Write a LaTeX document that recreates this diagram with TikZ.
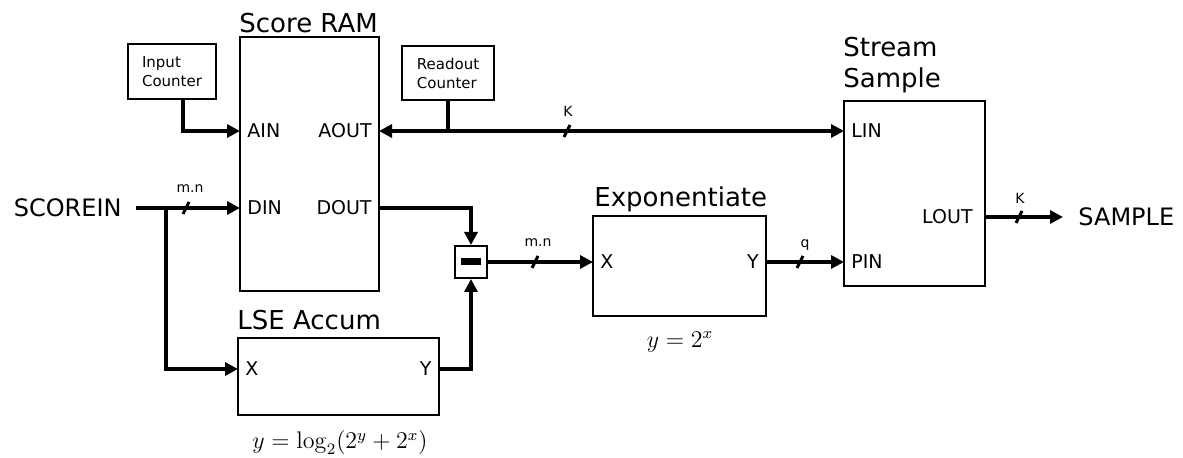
\documentclass[tikz,border=0pt]{standalone}
\usepackage[no-math]{fontspec}
\setmainfont{DejaVu Sans}
\usetikzlibrary{arrows.meta}
\tikzset{
  block/.style={draw, line width=1pt, inner sep=0pt},
  title/.style={font=\fontsize{13}{15.5}\selectfont, inner sep=0pt},
  port/.style={font=\fontsize{9.5}{11}\selectfont, inner sep=3.5pt},
  ctr/.style={block, align=left, font=\fontsize{7.5}{9.5}\selectfont},
  io/.style={font=\fontsize{12}{14}\selectfont},
  wire/.style={line width=1.6pt},
  arr/.style={wire, -{Triangle[length=6.5pt,width=6.5pt]}},
  biarr/.style={wire, {Triangle[length=6.5pt,width=6.5pt]}-{Triangle[length=6.5pt,width=6.5pt]}},
  tick/.style={line width=1.5pt},
  lbl/.style={font=\fontsize{7}{8}\selectfont, inner sep=0pt},
  eqn/.style={font=\fontsize{11.5}{13}\selectfont}
}
\begin{document}
\begin{tikzpicture}[x=0.5pt,y=-0.5pt]
        \useasboundingbox (0,0) rectangle (1183,458);
        % blocks
        \node[block, minimum width=69.5pt, minimum height=127pt] (RAM) at (309.5,164) {};
        \node[title, anchor=base west] at ([yshift=1.5pt]RAM.north west) {Score RAM};
        \node[ctr, minimum width=44pt, minimum height=27.5pt] (InCtr) at (172,71.5) {Input\\Counter};
        \node[ctr, minimum width=46pt, minimum height=27pt] (RdCtr) at (448,73) {Readout\\Counter};
        \node[block, minimum width=100.5pt, minimum height=38.5pt] (LSE) at (338.5,376.5) {};
        \node[title, anchor=base west] at ([yshift=3.5pt]LSE.north west) {LSE Accum};
        \node[block, minimum width=16pt, minimum height=16pt] (Minus) at (471,262) {\rule{10pt}{3.5pt}};
        \node[block, minimum width=86.5pt, minimum height=50pt] (Exp) at (679.5,266) {};
        \node[title, anchor=base west] at ([yshift=4pt, xshift=1pt]Exp.north west) {Exponentiate};
        \node[block, minimum width=70.5pt, minimum height=92.5pt] (SS) at (914.5,193.5) {};
        \node[title, anchor=south west, align=left] at ([yshift=3.5pt]SS.north west) {Stream\\Sample};
        % ports
        \node[port, anchor=west] (AIN) at (240,131) {AIN};
        \node[port, anchor=east] (AOUT) at (379,131) {AOUT};
        \node[port, anchor=west] (DIN) at (240,208) {DIN};
        \node[port, anchor=east] (DOUT) at (379,208) {DOUT};
        \node[port, anchor=west] (LX) at (238,369) {X};
        \node[port, anchor=east] (LY) at (439,369) {Y};
        \node[port, anchor=west] (EX) at (593,262) {X};
        \node[port, anchor=east] (EY) at (766,262) {Y};
        \node[port, anchor=west] (LIN) at (844,131) {LIN};
        \node[port, anchor=west] (PIN) at (844,262) {PIN};
        \node[port, anchor=east, inner sep=6pt] (LOUT) at (985,217) {LOUT};
        % inputs and outputs
        \node[io, anchor=east, inner sep=7pt] (scorein) at (136,208) {SCOREIN};
        \node[io, anchor=west, inner sep=7.5pt] (sample) at (1063,217) {SAMPLE};
        \coordinate (split) at (166,208);
        % connectors
        \draw[arr] (InCtr.south) ++(11,0) |- (AIN.west);
        \draw[biarr] (AOUT.east) -- (LIN.west);
        \draw[wire] (RdCtr.south) -- (RdCtr.south |- AOUT.east);
        \draw[arr] (scorein.east) -- (DIN.west);
        \draw[arr] (split) |- (LX.west);
        \draw[arr] (DOUT.east) -| (Minus.north);
        \draw[arr] (LY.east) -| (Minus.south);
        \draw[arr] (Minus.east) -- (EX.west);
        \draw[arr] (EY.east) -- (PIN.west);
        \draw[arr] (LOUT.east) -- (sample.west);
        % bus widths
        \draw[tick] (183,214) -- (189,202);
        \node[lbl] at (190,189) {m.n};
        \draw[tick] (564,137) -- (570,125);
        \node[lbl] at (568,111) {K};
        \draw[tick] (532,268) -- (538,256);
        \node[lbl] at (538,243) {m.n};
        \draw[tick] (797,268) -- (803,256);
        \node[lbl] at (805,245) {q};
        \draw[tick] (1016,223) -- (1022,211);
        \node[lbl] at (1020,198) {K};
        % functions
        \node[eqn] at (340,443) {$y = \log_2(2^y + 2^x)$};
        \node[eqn] at (680,342) {$y = 2^x$};
\end{tikzpicture}
\end{document}
